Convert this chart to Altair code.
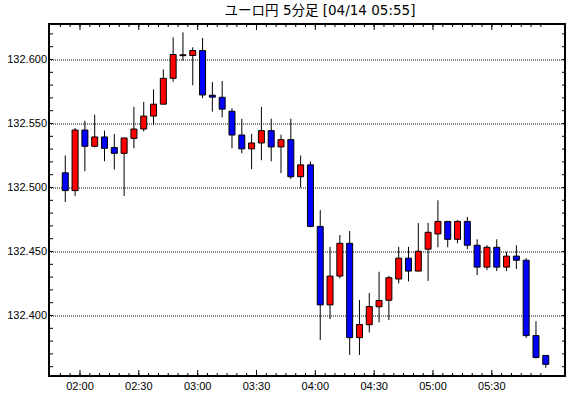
import altair as alt
import pandas as pd

TITLE = "ユーロ円 5分足 [04/14 05:55]"
START_MIN = 110  # 01:50, first 5-minute candle
N = 50

opens = [132.5115, 132.4976, 132.5449, 132.5322, 132.5395, 132.5312, 132.5267, 132.5384, 132.5457, 132.5558,
         132.5651, 132.5853, 132.6030, 132.6031, 132.6070, 132.5721, 132.5705, 132.5596, 132.5410, 132.5302,
         132.5348, 132.5444, 132.5317, 132.5374, 132.5084, 132.5177, 132.4696, 132.4083, 132.4308, 132.4564,
         132.3827, 132.3928, 132.4068, 132.4119, 132.4285, 132.4448, 132.4347, 132.4518, 132.4637, 132.4735,
         132.4595, 132.4735, 132.4549, 132.4378, 132.4533, 132.4378, 132.4464, 132.4432, 132.3843, 132.3688]
highs = [132.5250, 132.5465, 132.5521, 132.5568, 132.5444, 132.5418, 132.5387, 132.5630, 132.5669, 132.5767,
         132.5922, 132.6173, 132.6212, 132.6095, 132.6168, 132.5824, 132.5832, 132.5620, 132.5537, 132.5418,
         132.5630, 132.5537, 132.5413, 132.5537, 132.5250, 132.5203, 132.4823, 132.4536, 132.4629, 132.4660,
         132.4122, 132.4176, 132.4342, 132.4310, 132.4536, 132.4536, 132.4722, 132.4724, 132.4900, 132.4735,
         132.4745, 132.4771, 132.4595, 132.4549, 132.4595, 132.4497, 132.4549, 132.4448, 132.3956, 132.3688]
lows = [132.4887, 132.4934, 132.5128, 132.5314, 132.5205, 132.5141, 132.4934, 132.5306, 132.5438, 132.5488,
        132.5651, 132.5826, 132.5992, 132.5798, 132.5697, 132.5593, 132.5547, 132.5306, 132.5267, 132.5143,
        132.5213, 132.5205, 132.5112, 132.5066, 132.4999, 132.4689, 132.3809, 132.3972, 132.4290, 132.3692,
        132.3692, 132.3868, 132.3946, 132.3964, 132.4251, 132.4266, 132.4347, 132.4270, 132.4533, 132.4533,
        132.4564, 132.4518, 132.4316, 132.4355, 132.4347, 132.4347, 132.4363, 132.3824, 132.3664, 132.3591]
closes = [132.4976, 132.5449, 132.5322, 132.5395, 132.5306, 132.5267, 132.5387, 132.5457, 132.5558, 132.5651,
          132.5853, 132.6039, 132.6037, 132.6070, 132.5723, 132.5706, 132.5612, 132.5410, 132.5302, 132.5348,
          132.5444, 132.5317, 132.5374, 132.5084, 132.5177, 132.4696, 132.4083, 132.4308, 132.4564, 132.3827,
          132.3930, 132.4070, 132.4117, 132.4295, 132.4448, 132.4347, 132.4502, 132.4650, 132.4735, 132.4595,
          132.4735, 132.4549, 132.4378, 132.4533, 132.4378, 132.4464, 132.4432, 132.3843, 132.3672, 132.3618]

y_grid_values = [132.400, 132.450, 132.500, 132.550, 132.600]
y_minor_ticks = [round(132.36 + 0.01 * i, 2) for i in range(27)]
x_label_values = [120, 150, 180, 210, 240, 270, 300, 330]
x_minor_ticks = [START_MIN + 5 * i for i in range(N)]
x_major_ticks = [v for v in x_minor_ticks if v % 30 == 0]

times = [START_MIN + 5 * i for i in range(N)]
df = pd.DataFrame({
    "t": times,
    "mid": [t + 2.5 for t in times],
    "open": opens, "high": highs, "low": lows, "close": closes,
})
df["dir"] = ["up" if c >= o else "down" for o, c in zip(opens, closes)]

W, H = 516, 352
LABEL_FONT = "Liberation Sans"

y_top = 132.4 + 291.5 / 1280
y_bottom = y_top - H / 1280
x_scale = alt.Scale(domain=[106.75, 106.75 + W / 2], nice=False, zero=False)
y_scale = alt.Scale(domain=[y_bottom, y_top], nice=False, zero=False)

x_axis = alt.Axis(
    values=x_label_values,
    labelExpr="(floor(datum.value/60)<10?'0':'') + floor(datum.value/60) + ':' + (datum.value%60<10?'0':'') + (datum.value%60)",
    tickSize=0, domain=False, grid=False, title=None, translate=0,
    labelFont=LABEL_FONT, labelFontSize=11, labelColor="black", labelPadding=5,
)
y_axis = alt.Axis(
    values=y_grid_values, format=".3f", translate=0,
    tickSize=0, domain=False, grid=True, gridDash=[1, 1], gridColor="black", gridOpacity=1, gridWidth=1,
    title=None, labelFont=LABEL_FONT, labelFontSize=11, labelColor="black", labelPadding=2,
)

def X(field):
    return alt.X(field, type="quantitative", scale=x_scale, axis=x_axis)

def Y(field):
    return alt.Y(field, type="quantitative", scale=y_scale, axis=y_axis)

base = alt.Chart(df)

wicks = base.mark_rule(color="black", strokeWidth=1).encode(
    x=X("mid"), y=Y("low"), y2="high:Q"
)
bodies = base.mark_bar(size=6, stroke="black", strokeWidth=1).encode(
    x=X("mid"), y=Y("open"), y2="close:Q",
    color=alt.Color("dir:N", scale=alt.Scale(domain=["up", "down"], range=["#ff0000", "#0000ff"]), legend=None),
)

yt = alt.Chart(pd.DataFrame({"v": y_minor_ticks}))
left_ticks = yt.mark_rule(color="black", strokeWidth=1).encode(
    y=Y("v"), x=alt.value(0), x2=alt.value(4)
)
right_ticks = yt.mark_rule(color="black", strokeWidth=1).encode(
    y=Y("v"), x=alt.value(W - 3), x2=alt.value(W)
)

xt_minor = alt.Chart(pd.DataFrame({"t": x_minor_ticks}))
xt_major = alt.Chart(pd.DataFrame({"t": x_major_ticks}))
bottom_minor = xt_minor.mark_rule(color="black", strokeWidth=1).encode(
    x=X("t"), y=alt.value(H - 3), y2=alt.value(H)
)
bottom_major = xt_major.mark_rule(color="black", strokeWidth=1).encode(
    x=X("t"), y=alt.value(H - 6), y2=alt.value(H)
)
top_minor = xt_minor.mark_rule(color="black", strokeWidth=1).encode(
    x=X("t"), y=alt.value(0), y2=alt.value(3)
)
top_major = xt_major.mark_rule(color="black", strokeWidth=1).encode(
    x=X("t"), y=alt.value(0), y2=alt.value(6)
)

chart = alt.layer(
    wicks, bodies, left_ticks, right_ticks, bottom_minor, bottom_major, top_minor, top_major
).properties(
    width=W, height=H,
    title=alt.TitleParams(
        TITLE, font="DejaVu Sans, Noto Sans CJK JP", fontSize=13.5, fontWeight="normal",
        color="black", anchor="middle", dx=13, offset=6,
    ),
    autosize=alt.AutoSizeParams(type="none"),
    padding={"left": 49, "right": 5, "top": 24, "bottom": 22},
    background="white",
).configure_view(stroke="black", strokeWidth=2)

chart.save("out.html", embed_options={"renderer": "svg", "actions": False})
